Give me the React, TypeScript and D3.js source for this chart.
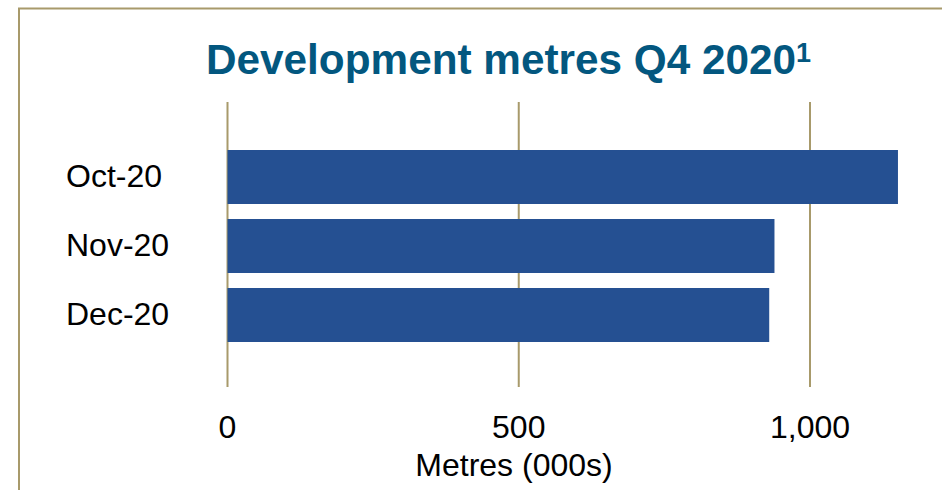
import React from "react";
import * as d3 from "d3";

const categories = ["Oct-20", "Nov-20", "Dec-20"];
const values = [1151, 939, 930];
const tickValues = [0, 500, 1000];
const titleText = "Development metres Q4 2020";
const titleSup = "1";
const axisTitle = "Metres (000s)";

const W = 942;
const H = 490;
const FRAME = "#a89a6b";
const BAR = "#255092";
const TITLE = "#03577f";
const FONT = "Liberation Sans, Arial, sans-serif";

export default function App() {
  const x = d3.scaleLinear().domain([0, 1000]).range([227.5, 810]);
  const y = d3
    .scaleBand<string>()
    .domain(categories)
    .range([142.5, 349.5])
    .paddingInner(15 / 69)
    .paddingOuter(7.5 / 69);
  const fmt = d3.format(",");
  return (
    <svg
      width={W}
      height={H}
      style={{ position: "absolute", left: 0, top: 0, background: "#fff" }}
      fontFamily={FONT}
    >
      <rect x={19} y={8.5} width={2000} height={2000} fill="none" stroke={FRAME} strokeWidth={2} />
      <text x={206} y={74} fontSize={42.3} fontWeight="bold" fill={TITLE}>
        {titleText}
        <tspan fontSize={27} dy={-12} dx={0}>{titleSup}</tspan>
      </text>
      {tickValues.map((t) => (
        <line key={"g" + t} x1={x(t)} x2={x(t)} y1={102} y2={387} stroke={FRAME} strokeWidth={2} />
      ))}
      {categories.map((c, i) => (
        <rect
          key={c}
          x={x(0)}
          y={y(c)}
          width={x(values[i]) - x(0)}
          height={y.bandwidth()}
          fill={BAR}
        />
      ))}
      {categories.map((c) => (
        <text key={"l" + c} x={66} y={(y(c) as number) + y.bandwidth() / 2} dy="0.3em" fontSize={32} fill="#000">
          {c}
        </text>
      ))}
      {tickValues.map((t) => (
        <text key={"t" + t} x={x(t)} y={438} textAnchor="middle" fontSize={32} fill="#000">
          {fmt(t)}
        </text>
      ))}
      <text x={514} y={476} textAnchor="middle" fontSize={32} fill="#000">
        {axisTitle}
      </text>
    </svg>
  );
}
